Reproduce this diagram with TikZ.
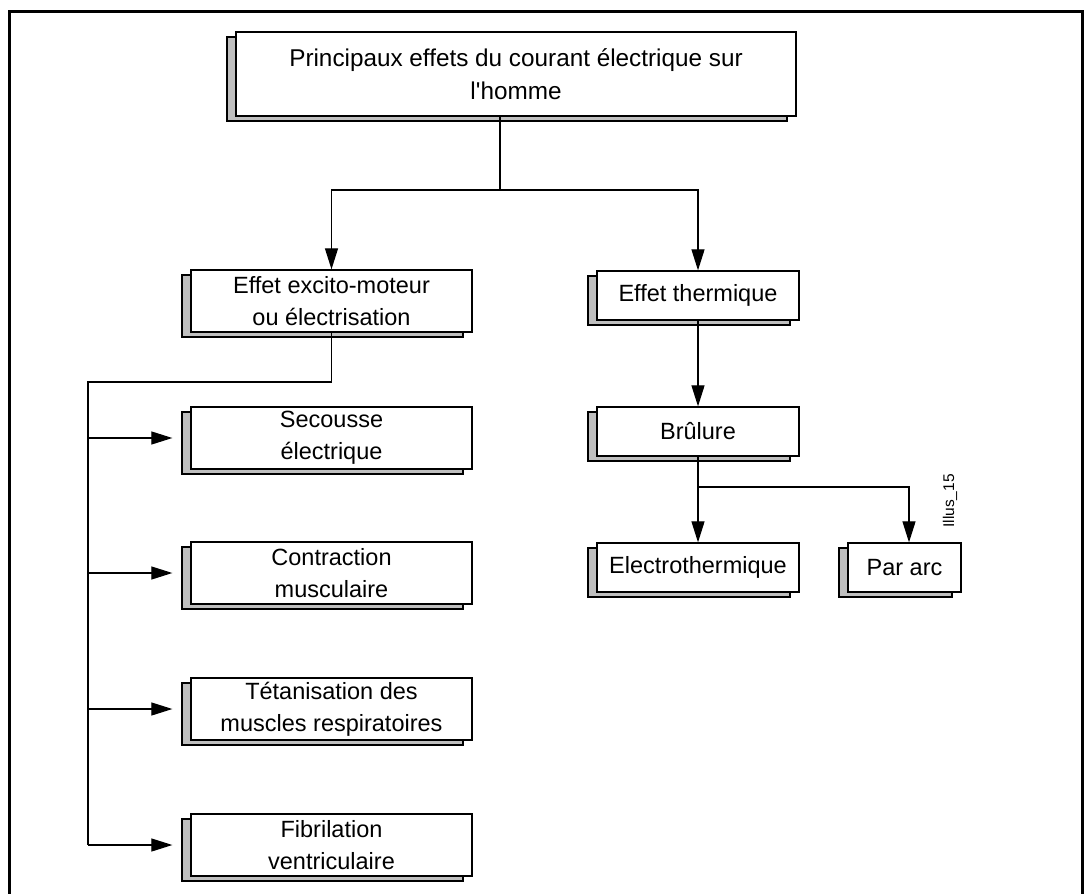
\documentclass[tikz,border=0pt]{standalone}
\usepackage{fontspec}
\setmainfont{Liberation Sans}[Ligatures=TeXOff]
\usetikzlibrary{arrows.meta,shadows}
\definecolor{shadowgray}{HTML}{BFBFBF}
\begin{document}
\begin{tikzpicture}[x=1pt,y=-1pt,
  every node/.style={inner sep=0pt},
  boxstyle/.style={draw=black, fill=white, line width=1.3pt, align=center,
    font=\fontsize{23.5}{32}\selectfont,
    general shadow={shadow xshift=-9pt, shadow yshift=-5pt, fill=shadowgray, draw=black, line width=1.1pt}},
  widebox/.style={boxstyle, minimum width=281pt, minimum height=62pt},
  midbox/.style={boxstyle, minimum width=202pt, minimum height=49pt},
  conn/.style={line width=1.2pt},
  arr/.style={conn, -{Triangle[length=21pt,width=13pt]}},
  frameline/.style={line width=3pt}
]
\useasboundingbox (0,0) rectangle (1090,894);
\clip (0,0) rectangle (1090,894);
\fill[white] (0,0) rectangle (1090,894);
\draw[frameline] (9.5,900) -- (9.5,11.5) -- (1082.5,11.5) -- (1082.5,900);

\node[boxstyle, minimum width=560pt, minimum height=84pt, font=\fontsize{24.3}{33}\selectfont] (top) at (516,74)
  {Principaux effets du courant électrique sur\\l'homme};
\node[widebox] (exc) at (331.5,301) {Effet excito-moteur\\ou électrisation};
\node[midbox] (therm) at (698,295.5) {Effet thermique};
\node[widebox] (sec) at (331.5,438) {Secousse\\électrique};
\node[widebox] (con) at (331.5,573) {Contraction\\musculaire};
\node[widebox] (tet) at (331.5,709) {Tétanisation des\\muscles respiratoires};
\node[widebox] (fib) at (331.5,845) {Fibrilation\\ventriculaire};
\node[midbox] (bru) at (698,431.5) {Brûlure};
\node[midbox] (elec) at (698,567.5) {Electrothermique};
\node[boxstyle, minimum width=113pt, minimum height=49pt] (arc) at (904.5,567.5) {Par arc};
\node[rotate=90, font=\fontsize{15.5}{15.5}\selectfont] (ill) at (950,501) {Illus\_15};

\coordinate (j) at (500,190);
\draw[conn] (top.south -| j) -- (j);
\draw[arr] (j) -| (exc.north);
\draw[arr] (j) -| (therm.north);

\coordinate (tk) at (88,382);
\draw[conn] (exc.south) |- (tk) -- (tk |- fib.west);
\foreach \n in {sec,con,tet,fib}
  \draw[arr] (tk |- \n.west) -- ([xshift=-18pt]\n.west);

\draw[arr] (therm.south) -- (bru.north);
\coordinate (b) at (698,487);
\draw[arr] (bru.south) -- (elec.north);
\draw[arr] (b) -| ([xshift=4.5pt]arc.north);
\end{tikzpicture}
\end{document}
